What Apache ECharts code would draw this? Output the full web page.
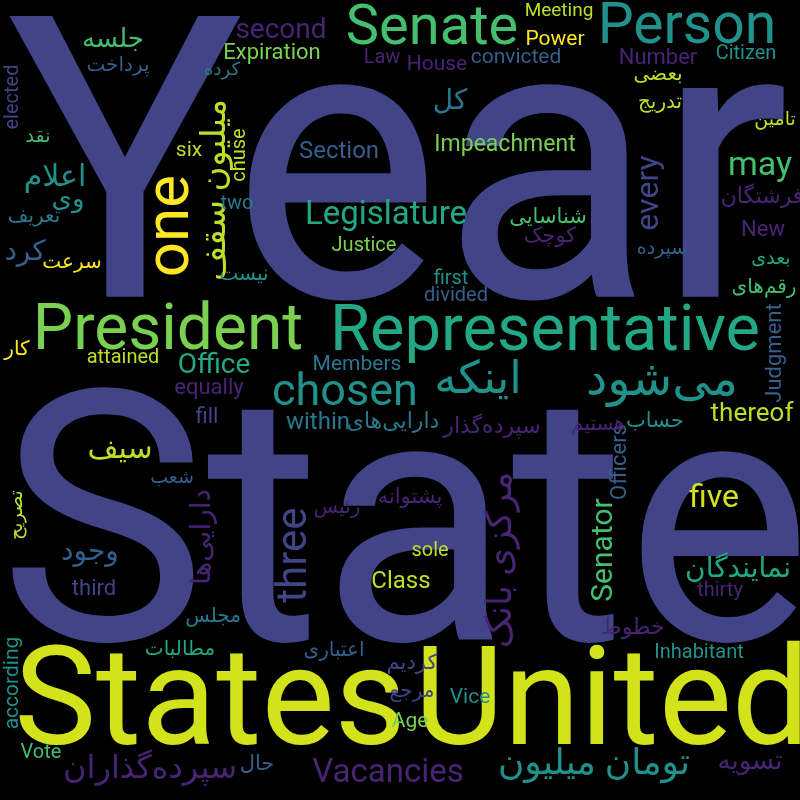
<!DOCTYPE html>
<html>
<head>
<meta charset="utf-8">
<script src="https://cdn.jsdelivr.net/npm/echarts@6/dist/echarts.min.js"></script>
<style>
  html, body { margin: 0; padding: 0; background: #000; }
  #chart { width: 800px; height: 800px; }
</style>
</head>
<body>
<div id="chart"></div>
<script>
// words of the cloud and their relative weight (1 = most frequent)
const words = [
  'Year', 'State', 'States', 'United', 'President', 'Representative', 'Senate', 'Person',
  'chosen', 'اینکه', 'می‌شود', 'one', 'three', 'میلیون سقف', 'مرکزی بانک', 'تومان میلیون',
  'Legislature', 'Vacancies', 'may', 'every', 'five', 'سپرده‌گذاران', 'Senator', 'اعلام',
  'سیف', 'second', 'Office', 'دارایی‌ها', 'وجود', 'نمایندگان', 'کرد', 'کل',
  'وی', 'جلسه', 'thereof', 'تسویه', 'Section', 'within', 'Class', 'Impeachment',
  'Expiration', 'Number', 'New', 'فرشتگان', 'Judgment', 'دارایی‌های', 'سپرده‌گذار', 'Officers',
  'خطوط', 'fill', 'equally', 'third', 'Power', 'House', 'convicted', 'six',
  'Members', 'شناسایی', 'کوچک', 'حساب', 'پشتوانه', 'Vice', 'کردیم', 'Age',
  'according', 'حال', 'Law', 'Citizen', 'پرداخت', 'elected', 'تعریف', 'سرعت',
  'two', 'Justice', 'chuse', 'بعضی', 'تدریج', 'رقم‌های', 'first', 'divided',
  'نیست', 'کار', 'attained', 'هستیم', 'رئیس', 'sole', 'thirty', 'Inhabitant',
  'مرجع', 'اعتباری', 'مطالبات', 'مجلس', 'Vote', 'Meeting', 'نقد', 'کرده',
  'تامین', 'سپرده', 'بعدی', 'تصریح', 'شعب'
];
const weights = [
  1, 0.886, 0.349, 0.349, 0.162, 0.165, 0.142, 0.144,
  0.114, 0.114, 0.122, 0.157, 0.106, 0.086, 0.091, 0.091,
  0.084, 0.084, 0.086, 0.081, 0.081, 0.081, 0.076, 0.076,
  0.076, 0.071, 0.071, 0.071, 0.071, 0.071, 0.071, 0.071,
  0.066, 0.066, 0.066, 0.066, 0.061, 0.061, 0.061, 0.058,
  0.056, 0.056, 0.056, 0.056, 0.056, 0.056, 0.056, 0.056,
  0.056, 0.056, 0.056, 0.056, 0.053, 0.053, 0.053, 0.053,
  0.053, 0.053, 0.053, 0.053, 0.053, 0.053, 0.053, 0.053,
  0.053, 0.053, 0.051, 0.051, 0.051, 0.051, 0.051, 0.051,
  0.051, 0.051, 0.051, 0.051, 0.051, 0.051, 0.051, 0.051,
  0.051, 0.051, 0.051, 0.051, 0.051, 0.051, 0.051, 0.051,
  0.051, 0.051, 0.051, 0.051, 0.051, 0.048, 0.048, 0.046,
  0.048, 0.048, 0.048, 0.048, 0.048
];

// where the cloud placed each word: [x, y, rotation, colour index]
const placement = [
  [398, 198, 0, 2], [405, 552, 0, 2], [210, 709, 0, 11], [612, 709, 0, 11],
  [168, 333, 0, 8], [545, 334, 0, 6], [432, 30, 0, 7], [687, 29, 0, 5],
  [345, 394, 0, 5], [478, 382, 0, 5], [662, 383, 0, 5], [172, 226, 90, 10],
  [295, 555, 90, 2], [216, 190, 90, 9], [502, 560, 90, 1], [594, 765, 0, 5],
  [386, 216, 0, 6], [388, 774, 0, 1], [760, 166, 0, 7], [650, 193, 90, 2],
  [714, 499, 0, 11], [150, 770, 0, 1], [604, 550, 90, 7], [55, 178, 0, 5],
  [120, 450, 0, 9], [281, 31, 0, 1], [214, 366, 0, 6], [203, 537, 90, 1],
  [90, 553, 0, 3], [738, 570, 0, 6], [25, 253, 0, 3], [450, 102, 0, 4],
  [68, 200, 0, 5], [113, 40, 0, 7], [752, 414, 0, 9], [750, 762, 0, 1],
  [339, 152, 0, 3], [318, 423, 0, 4], [401, 582, 0, 9], [505, 145, 0, 8],
  [272, 53, 0, 8], [658, 58, 0, 1], [763, 230, 0, 1], [762, 197, 0, 1],
  [775, 353, 90, 3], [393, 422, 0, 4], [492, 427, 0, 1], [620, 462, 90, 3],
  [633, 628, 0, 1], [207, 417, 0, 2], [209, 388, 0, 1], [94, 589, 0, 2],
  [555, 40, 0, 10], [437, 65, 0, 1], [516, 58, 0, 3], [189, 151, 0, 9],
  [357, 365, 0, 4], [548, 218, 0, 7], [550, 237, 0, 1], [655, 422, 0, 5],
  [410, 498, 0, 1], [470, 698, 0, 5], [412, 664, 0, 2], [410, 722, 0, 8],
  [13, 683, 90, 5], [257, 765, 0, 3], [382, 58, 0, 1], [746, 54, 0, 5],
  [118, 66, 0, 3], [13, 97, 90, 2], [34, 217, 0, 4], [72, 263, 0, 10],
  [237, 204, 0, 4], [364, 246, 0, 8], [240, 155, 90, 9], [658, 75, 0, 9],
  [660, 103, 0, 9], [764, 288, 0, 7], [451, 279, 0, 5], [456, 296, 0, 3],
  [244, 275, 0, 5], [17, 350, 0, 10], [123, 358, 0, 9], [598, 425, 0, 1],
  [337, 508, 0, 1], [430, 551, 0, 9], [720, 591, 0, 1], [699, 653, 0, 5],
  [412, 692, 0, 2], [334, 651, 0, 3], [180, 650, 0, 6], [213, 617, 0, 4],
  [41, 753, 0, 7], [559, 11, 0, 9], [38, 137, 0, 7], [222, 70, 0, 4],
  [775, 120, 0, 9], [662, 249, 0, 3], [771, 259, 0, 6], [17, 515, 90, 9],
  [172, 478, 0, 3]
];

const viridis = ['#440154', '#482475', '#414487', '#355f8d', '#2a788e', '#21918c',
  '#22a884', '#44bf70', '#7ad151', '#bddf26', '#fde725', '#d2e21b'];
const maxFont = 395;

const chart = echarts.init(document.getElementById('chart'));

const data = words.map((w, i) => {
  const p = placement[i];
  return {
    name: w,
    value: [p[0], p[1]],
    label: {
      fontSize: Math.round(maxFont * weights[i]),
      rotate: p[2],
      color: viridis[p[3]]
    }
  };
});

const option = {
  backgroundColor: '#000',
  animation: false,
  grid: { left: 0, right: 0, top: 0, bottom: 0 },
  xAxis: { type: 'value', min: 0, max: 800, show: false },
  yAxis: { type: 'value', min: 0, max: 800, inverse: true, show: false },
  series: [
    {
      type: 'scatter',
      symbolSize: 1,
      silent: true,
      itemStyle: { color: 'rgba(0,0,0,0)', opacity: 1 },
      label: {
        show: true,
        position: 'inside',
        align: 'center',
        verticalAlign: 'middle',
        formatter: (p) => p.name,
        fontFamily: 'Roboto, "DejaVu Sans", sans-serif',
        opacity: 1
      },
      data: data
    }
  ]
};
chart.setOption(option);
</script>
</body>
</html>
